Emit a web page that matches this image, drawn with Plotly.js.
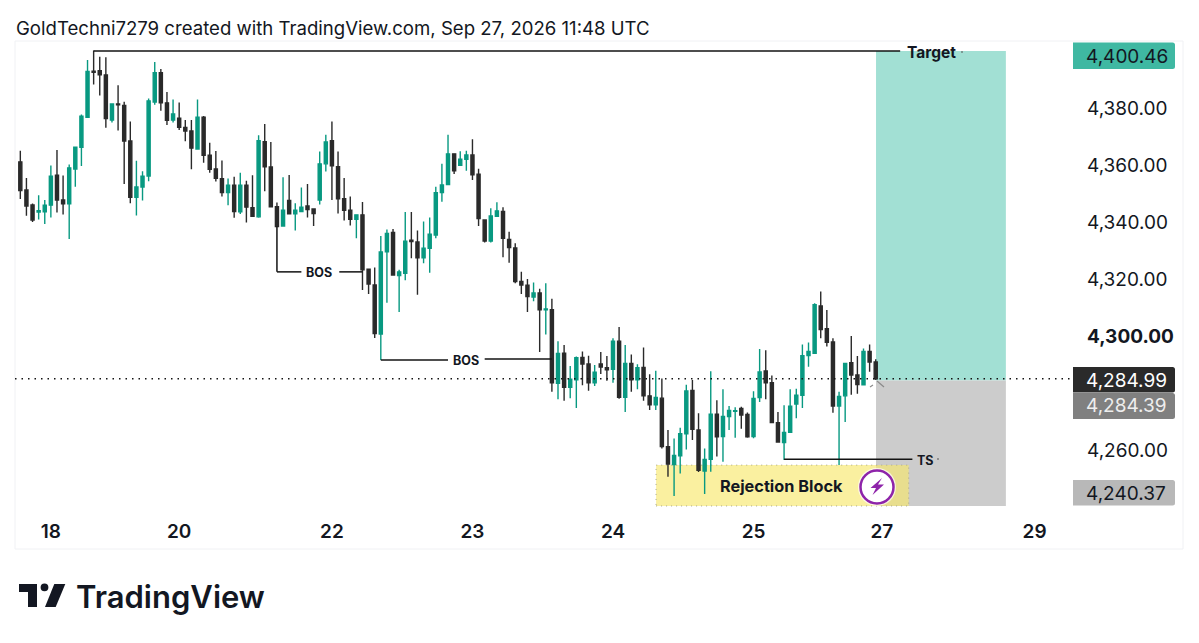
<!DOCTYPE html>
<html>
<head>
<meta charset="utf-8">
<script src="https://cdn.plot.ly/plotly-3.0.1.min.js"></script>
<style>html,body{margin:0;padding:0;background:#fff}</style>
</head>
<body>
<div id="myDiv"></div>
<script>
// XAU 1h candles, oldest first
var opens = [4361.1,4351.2,4346.0,4343.5,4343.6,4345.9,4356.4,4347.7,4346.4,4358.6,
  4366.2,4376.7,4392.9,4393.1,4391.6,4375.8,4381.4,4380.9,4368.4,4348.7,
  4352.3,4356.1,4382.1,4392.4,4381.8,4375.8,4376.4,4373.2,4371.9,4365.6,
  4376.8,4363.4,4358.6,4355.2,4350.3,4352.9,4343.6,4352.9,4345.0,4341.8,
  4368.2,4359.3,4345.4,4338.6,4347.6,4342.9,4343.7,4345.6,4344.6,4347.7,
  4360.4,4368.5,4359.4,4348.2,4344.1,4340.9,4342.5,4323.4,4317.9,4300.7,
  4329.5,4336.3,4321.2,4322.0,4333.6,4333.0,4327.4,4330.8,4335.4,4350.3,
  4353.1,4363.9,4359.9,4362.0,4363.5,4356.8,4340.7,4333.3,4342.0,4343.7,
  4333.9,4330.9,4319.1,4317.8,4313.7,4315.1,4309.2,4309.2,4283.4,4294.0,
  4282.0,4284.6,4292.5,4290.2,4283.6,4290.2,4288.9,4288.3,4298.2,4278.5,
  4290.4,4284.6,4289.0,4279.0,4275.9,4278.2,4261.2,4254.9,4258.0,4265.7,
  4280.9,4267.0,4252.6,4256.7,4272.6,4264.7,4271.7,4273.6,4274.6,4272.5,
  4264.7,4278.4,4287.7,4283.6,4269.6,4262.6,4266.2,4276.1,4279.2,4293.1,
  4293.9,4310.5,4302.6,4297.9,4275.4,4279.0,4290.6,4286.3,4282.9,4294.6,4290.9];
var highs = [4365.0,4355.4,4346.5,4349.4,4347.7,4359.8,4365.3,4356.3,4360.2,4366.4,
  4377.7,4396.8,4400.2,4398.0,4397.8,4381.6,4388.0,4382.2,4375.3,4361.5,
  4357.8,4383.3,4396.1,4393.7,4385.6,4383.0,4381.9,4375.8,4375.8,4383.0,
  4377.2,4367.8,4364.9,4361.6,4355.3,4355.9,4357.3,4354.5,4356.4,4370.4,
  4374.4,4368.1,4346.8,4355.7,4356.5,4346.6,4352.1,4353.3,4344.8,4364.7,
  4370.6,4375.3,4364.7,4355.4,4348.9,4342.7,4347.0,4323.7,4324.0,4335.1,
  4337.4,4337.5,4323.2,4343.5,4343.5,4337.0,4340.2,4341.6,4352.4,4360.4,
  4370.6,4364.1,4364.8,4365.0,4369.0,4358.7,4340.9,4344.8,4346.9,4345.2,
  4336.6,4332.5,4322.5,4320.0,4318.8,4316.6,4318.5,4313.1,4298.2,4296.8,
  4289.5,4292.8,4294.6,4293.1,4289.8,4294.4,4293.0,4299.2,4303.2,4296.8,
  4293.5,4290.1,4296.0,4286.6,4287.8,4285.1,4267.0,4264.0,4267.8,4282.9,
  4284.6,4272.9,4260.5,4287.6,4277.5,4281.3,4275.4,4275.0,4275.2,4273.2,
  4280.6,4295.4,4295.0,4286.1,4273.3,4275.7,4281.3,4281.5,4297.0,4297.7,
  4311.5,4315.6,4309.1,4299.2,4280.4,4290.6,4300.0,4293.0,4295.6,4297.0,4291.8];
var lows = [4348.1,4342.2,4340.0,4340.9,4339.3,4341.6,4343.3,4342.6,4334.0,4352.4,
  4359.6,4376.7,4388.2,4384.4,4373.1,4374.9,4372.1,4353.3,4346.6,4342.3,
  4347.5,4354.3,4381.1,4379.0,4374.0,4374.9,4372.3,4368.3,4358.5,4365.6,
  4360.8,4357.3,4354.2,4348.9,4345.9,4341.5,4342.8,4339.8,4341.9,4341.5,
  4350.8,4345.1,4338.4,4338.6,4342.7,4337.0,4343.7,4341.6,4338.6,4346.1,
  4357.7,4347.7,4343.0,4340.5,4338.8,4334.3,4316.1,4314.7,4299.3,4291.6,
  4311.7,4321.4,4308.4,4319.6,4327.3,4314.5,4325.5,4322.2,4334.3,4347.1,
  4353.1,4356.8,4359.9,4358.0,4354.7,4338.6,4332.8,4332.8,4342.0,4327.6,
  4325.7,4318.5,4314.7,4308.4,4312.2,4294.4,4300.5,4280.4,4277.8,4277.3,
  4278.2,4274.7,4282.7,4280.8,4282.5,4286.7,4284.3,4283.6,4278.0,4273.3,
  4280.4,4281.3,4277.3,4274.0,4274.0,4260.5,4250.6,4243.9,4251.8,4260.2,
  4263.5,4252.3,4244.6,4252.4,4257.7,4255.9,4267.0,4264.3,4267.5,4264.3,
  4264.1,4276.8,4277.8,4269.6,4262.6,4256.5,4266.1,4271.1,4274.7,4289.2,
  4293.7,4299.2,4296.3,4273.1,4254.7,4269.8,4279.4,4279.7,4282.7,4287.5,4284.6];
var closes = [4351.0,4345.6,4340.7,4344.0,4345.9,4356.1,4347.7,4346.4,4359.0,4366.2,
  4377.1,4392.8,4392.5,4391.6,4376.3,4381.4,4381.1,4368.4,4348.7,4352.3,
  4356.1,4382.5,4392.4,4381.8,4375.7,4377.9,4373.2,4371.9,4365.9,4376.8,
  4363.4,4358.5,4355.3,4350.3,4352.9,4343.7,4352.9,4345.2,4342.0,4368.5,
  4359.4,4345.3,4338.4,4344.1,4342.9,4344.1,4345.2,4344.4,4343.0,4360.4,
  4368.1,4359.7,4348.1,4344.1,4340.9,4342.5,4323.2,4318.2,4300.9,4329.5,
  4336.0,4321.4,4322.5,4333.3,4333.1,4327.4,4330.8,4335.7,4350.3,4353.0,
  4363.9,4358.0,4362.0,4363.5,4356.6,4341.2,4333.3,4342.1,4343.9,4334.3,
  4331.0,4319.1,4317.9,4313.8,4315.1,4309.2,4309.5,4283.6,4293.9,4282.0,
  4284.8,4292.4,4290.2,4283.6,4287.3,4289.1,4288.1,4298.2,4278.5,4290.4,
  4284.6,4288.9,4279.0,4275.9,4278.4,4261.2,4255.1,4258.1,4265.7,4280.7,
  4267.3,4252.9,4256.7,4272.6,4264.6,4271.8,4273.9,4273.8,4272.3,4264.6,
  4278.1,4287.4,4283.6,4269.6,4262.8,4266.2,4275.4,4279.2,4293.1,4294.6,
  4311.0,4302.3,4297.8,4275.4,4278.8,4290.4,4286.3,4283.0,4294.6,4290.9,4284.99];

// date labels, candle index they sit on
var dateLabels = ['18','20','22','23','24','25','27','29'];
var dateIndex = [5,26,51,74,97,120,141,166];

var priceTicks = [4380,4360,4340,4320,4300,4260];
var priceLabels = ['4,380.00','4,360.00','4,340.00','4,320.00','<b>4,300.00</b>','4,260.00'];

var targetPrice = 4400.0, entryPrice = 4284.39, stopPrice = 4240.37, lastPrice = 4284.99;

var indices = opens.map(function (_, i) { return i; });

// plot box in page pixels
var W = 1199, H = 643, L = 15, R = 1071, T = 41, B = 512;
function px(x) { return (x - L) / (R - L); }
function py(y) { return (B - y) / (B - T); }
function pathOf(points) {
  return 'M' + points.map(function (p) { return px(p[0]) + ',' + py(p[1]); }).join('L') + 'Z';
}
function pageShape(extra) {
  extra.xref = 'paper'; extra.yref = 'paper';
  return extra;
}
function pageLine(x0, y0, x1, y1, color, width) {
  return pageShape({type: 'line', x0: px(x0), y0: py(y0), x1: px(x1), y1: py(y1), line: {color: color, width: width}});
}
// price badge, right corners rounded
function badge(y0, y1, fill) {
  var x0 = 1073, x1 = 1175, r = 2.5;
  var path = 'M' + px(x0) + ',' + py(y0) + 'L' + px(x1 - r) + ',' + py(y0) +
    'Q' + px(x1) + ',' + py(y0) + ' ' + px(x1) + ',' + py(y0 + r) +
    'L' + px(x1) + ',' + py(y1 - r) +
    'Q' + px(x1) + ',' + py(y1) + ' ' + px(x1 - r) + ',' + py(y1) +
    'L' + px(x0) + ',' + py(y1) + 'Z';
  return pageShape({type: 'path', path: path, fillcolor: fill, line: {width: 0}});
}
function dataLine(x0, y0, x1, y1) {
  return {type: 'line', xref: 'x', yref: 'y', x0: x0, y0: y0, x1: x1, y1: y1, line: {color: '#131313', width: 1.5}};
}
function label(text, x, y, size, color, weight, anchor) {
  return {text: text, xref: 'paper', yref: 'paper', x: px(x), y: py(y), showarrow: false,
    xanchor: anchor || 'center', yanchor: 'middle',
    font: {family: 'Inter', size: size, color: color, weight: weight || 400}};
}

var trace = {
  type: 'candlestick', x: indices, open: opens, high: highs, low: lows, close: closes,
  increasing: {line: {color: '#089981', width: 1.4}, fillcolor: '#089981'},
  decreasing: {line: {color: '#2a2a2a', width: 1.4}, fillcolor: '#2a2a2a'},
  whiskerwidth: 0, hoverinfo: 'skip', showlegend: false
};

var shapes = [
  // chart frame
  pageShape({type: 'rect', x0: px(15), y0: py(41), x1: px(1183), y1: py(549), line: {color: '#f0f1f4', width: 1}, layer: 'below'}),
  // long position zones
  {type: 'rect', xref: 'x', yref: 'y', x0: 140.05, x1: 161.3, y0: entryPrice, y1: targetPrice, fillcolor: '#a2e0d4', line: {width: 0}, layer: 'below'},
  {type: 'rect', xref: 'x', yref: 'y', x0: 140.05, x1: 161.3, y0: stopPrice, y1: entryPrice, fillcolor: '#cccccc', line: {width: 0}, layer: 'below'},
  // rejection block
  {type: 'rect', xref: 'x', yref: 'y', x0: 104.05, x1: 145.4, y0: stopPrice, y1: 4254.7, fillcolor: 'rgba(248,232,109,0.65)', line: {color: '#a9a78c', width: 1, dash: '1px,4px'}, layer: 'below'},
  // last price
  {type: 'line', xref: 'paper', yref: 'y', x0: 0, x1: 1, y0: lastPrice, y1: lastPrice, line: {color: '#131313', width: 1.4, dash: '1.5px,5px'}},
  // structure lines
  dataLine(12, targetPrice, 144, targetPrice),
  dataLine(42, 4338.4, 42, 4322.5),
  dataLine(42, 4322.5, 46, 4322.5),
  dataLine(52.2, 4322.5, 56, 4322.5),
  dataLine(59, 4291.6, 70, 4291.6),
  dataLine(76, 4291.9, 87, 4291.9),
  dataLine(125, 4256.8, 146, 4256.8),
  pageLine(961, 52, 963, 52, '#555', 1),
  pageLine(937, 459, 939, 459, '#555', 1),
  // small arrow at the entry
  pageLine(877, 381, 884, 387, '#8a8a8a', 1.2),
  pageLine(870, 387, 873, 385, '#8a8a8a', 1.2),
  // bolt badge
  pageShape({type: 'circle', x0: px(858), y0: py(506), x1: px(896), y1: py(468), fillcolor: 'rgba(255,255,255,0.7)', line: {width: 0}}),
  pageShape({type: 'circle', x0: px(860.5), y0: py(503.5), x1: px(893.5), y1: py(470.5), fillcolor: '#ffffff', line: {color: '#8e24aa', width: 2.5}}),
  pageShape({type: 'path', path: pathOf([[882, 478], [870.5, 488], [876, 488], [872.5, 495], [884, 484.5], [878, 484.5]]), fillcolor: '#8e24aa', line: {width: 0}}),
  // price badges
  badge(42.5, 69, '#3fb8a2'),
  badge(367, 392.5, '#2a2a2a'),
  badge(393, 419, '#808080'),
  badge(480, 505.5, '#b8b8b8'),
  // logo
  pageShape({type: 'path', path: pathOf([[19, 584], [37, 584], [37, 607], [28, 607], [28, 592], [19, 592]]), fillcolor: '#131722', line: {width: 0}}),
  pageShape({type: 'circle', x0: px(40.6), y0: py(591.2), x1: px(48.4), y1: py(583.4), fillcolor: '#131722', line: {width: 0}}),
  pageShape({type: 'path', path: pathOf([[54.3, 584], [65.3, 584], [55.7, 607], [45, 607]]), fillcolor: '#131722', line: {width: 0}})
];

var annotations = [
  label('GoldTechni7279 created with TradingView.com, Sep 27, 2026 11:48 UTC', 14, 28, 18.6, '#131722', 400, 'left'),
  label('Target', 931, 52, 15.5, '#131722', 700),
  label('BOS', 319, 272, 12.5, '#131722', 700),
  label('BOS', 466, 360, 12.5, '#131722', 700),
  label('TS', 925, 460, 12.5, '#131722', 700),
  label('Rejection Block', 781, 486, 16.3, '#131722', 700),
  label('4,400.46', 1084, 56, 19, '#131722', 400, 'left'),
  label('4,284.99', 1084, 380, 19, '#ffffff', 400, 'left'),
  label('4,284.39', 1084, 405.5, 19, '#eeeeee', 400, 'left'),
  label('4,240.37', 1084, 493, 19, '#131722', 400, 'left'),
  label('TradingView', 74, 596.5, 31, '#131722', 600, 'left')
];

var layout = {
  width: W, height: H,
  margin: {l: L, r: W - R, t: T, b: H - B, pad: 0},
  paper_bgcolor: '#ffffff', plot_bgcolor: '#ffffff',
  showlegend: false, boxgap: 0.28,
  xaxis: {
    range: [-0.87, 171.96], rangeslider: {visible: false},
    tickmode: 'array', tickvals: dateIndex, ticktext: dateLabels,
    tickfont: {family: 'Inter', size: 19, color: '#131722', weight: 600},
    ticklen: 0, showgrid: false, zeroline: false, showline: false, ticklabelstandoff: 6
  },
  yaxis: {
    side: 'right', range: [4238.25, 4403.5],
    tickmode: 'array', tickvals: priceTicks, ticktext: priceLabels,
    tickfont: {family: 'Inter', size: 19, color: '#131722'},
    ticklen: 0, showgrid: false, zeroline: false, showline: false, ticklabelstandoff: 15
  },
  shapes: shapes, annotations: annotations
};

Plotly.newPlot('myDiv', [trace], layout, {displayModeBar: false, staticPlot: true});
</script>
</body>
</html>
